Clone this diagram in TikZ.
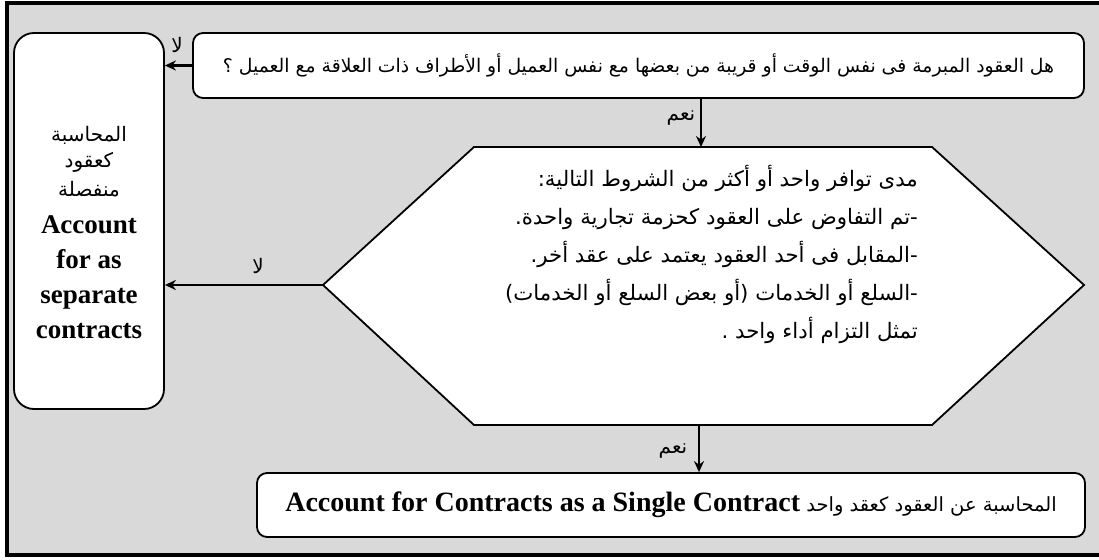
\documentclass[tikz,border=0pt]{standalone}
\usepackage{fontspec}
\setmainfont{Liberation Serif}
\newfontfamily\arabicfont[Script=Arabic]{DejaVu Sans}
\TeXXeTstate=1
\usetikzlibrary{arrows.meta}
\definecolor{bg}{RGB}{217,217,217}
\newcommand\AR[1]{{\arabicfont\beginR #1\endR}}
\begin{document}
\begin{tikzpicture}[x=1pt,y=-1pt,
  box/.style={draw, line width=1.8pt, fill=white, rounded corners=10pt, inner sep=0pt},
  arr/.style={line width=2.4pt, -{Stealth[length=11pt,width=10pt]}},
  lbl/.style={font=\arabicfont\fontsize{20}{22}\selectfont, inner sep=0pt},
  hexline/.style={line width=1.8pt, fill=white, line join=miter},
]
\useasboundingbox (0,0) rectangle (1099,559);
\fill[bg] (7,3) rectangle (1110,555);
\draw[line width=3.5pt] (1110,3) -- (7,3) -- (7,555) -- (1110,555);

% top question box
\node[box, minimum width=891pt, minimum height=65pt,
      font=\arabicfont\fontsize{18.8}{22}\selectfont] (q1) at (638.5,65.5)
  {\beginR هل العقود المبرمة فى نفس الوقت أو قريبة من بعضها مع نفس العميل أو الأطراف ذات العلاقة مع العميل ؟\endR};

% left box
\node[box, rounded corners=20pt, minimum width=150pt, minimum height=376pt, align=center,
      font=\fontsize{27}{35}\selectfont] (sep) at (89,221)
  {\mbox{}\\[3pt]
   \AR{\fontsize{20}{24}\selectfont المحاسبة}\\[-9pt]
   \AR{\fontsize{20}{24}\selectfont كعقود}\\[-6pt]
   \AR{\fontsize{20}{24}\selectfont منفصلة}\\[2pt]
   {\bfseries Account}\\
   {\bfseries for as}\\
   {\bfseries separate}\\
   {\bfseries contracts}};

% hexagon
\coordinate (hexNW) at (474,147);
\coordinate (hexNE) at (932,147);
\coordinate (hexE) at (1084,285);
\coordinate (hexSE) at (932,425);
\coordinate (hexSW) at (474,425);
\coordinate (hexW) at (323,285);
\coordinate (hexN) at (701,147);
\coordinate (hexS) at (699,425);
\draw[hexline] (hexNW) -- (hexNE) -- (hexE) -- (hexSE) -- (hexSW) -- (hexW) -- cycle;
\node[anchor=east, align=right, inner sep=0pt,
      font=\arabicfont\fontsize{21.3}{38}\selectfont] (hex) at (918,254)
  {\beginR مدى توافر واحد أو أكثر من الشروط التالية:\endR\\
   \beginR -تم التفاوض على العقود كحزمة تجارية واحدة.\endR\\
   \beginR -المقابل فى أحد العقود يعتمد على عقد أخر.\endR\\
   \beginR -السلع أو الخدمات (أو بعض السلع أو الخدمات)\endR\\
   \beginR تمثل التزام أداء واحد .\endR\hspace{12pt}};

% bottom box
\node[box, minimum width=828pt, minimum height=64pt] (single) at (671,505)
  {\AR{\fontsize{19.5}{24}\selectfont المحاسبة عن العقود كعقد واحد \beginL{\rmfamily\bfseries\fontsize{28}{32}\selectfont Account for Contracts as a Single Contract}\endL}};

% connectors
\draw[arr] (q1.west) -- (q1.west -| sep.east);
\draw[arr] (hexN |- q1.south) -- (hexN);
\draw[arr] (hexW) -- (hexW -| sep.east);
\draw[arr] (hexS) -- (hexS |- single.north);

% labels
\node[lbl] (lblA) at (177,45) {\beginR لا\endR};
\node[lbl] (lblB) at (681,118) {\beginR نعم\endR};
\node[lbl] (lblC) at (258,266) {\beginR لا\endR};
\node[lbl] (lblD) at (673,451) {\beginR نعم\endR};
\end{tikzpicture}
\end{document}
